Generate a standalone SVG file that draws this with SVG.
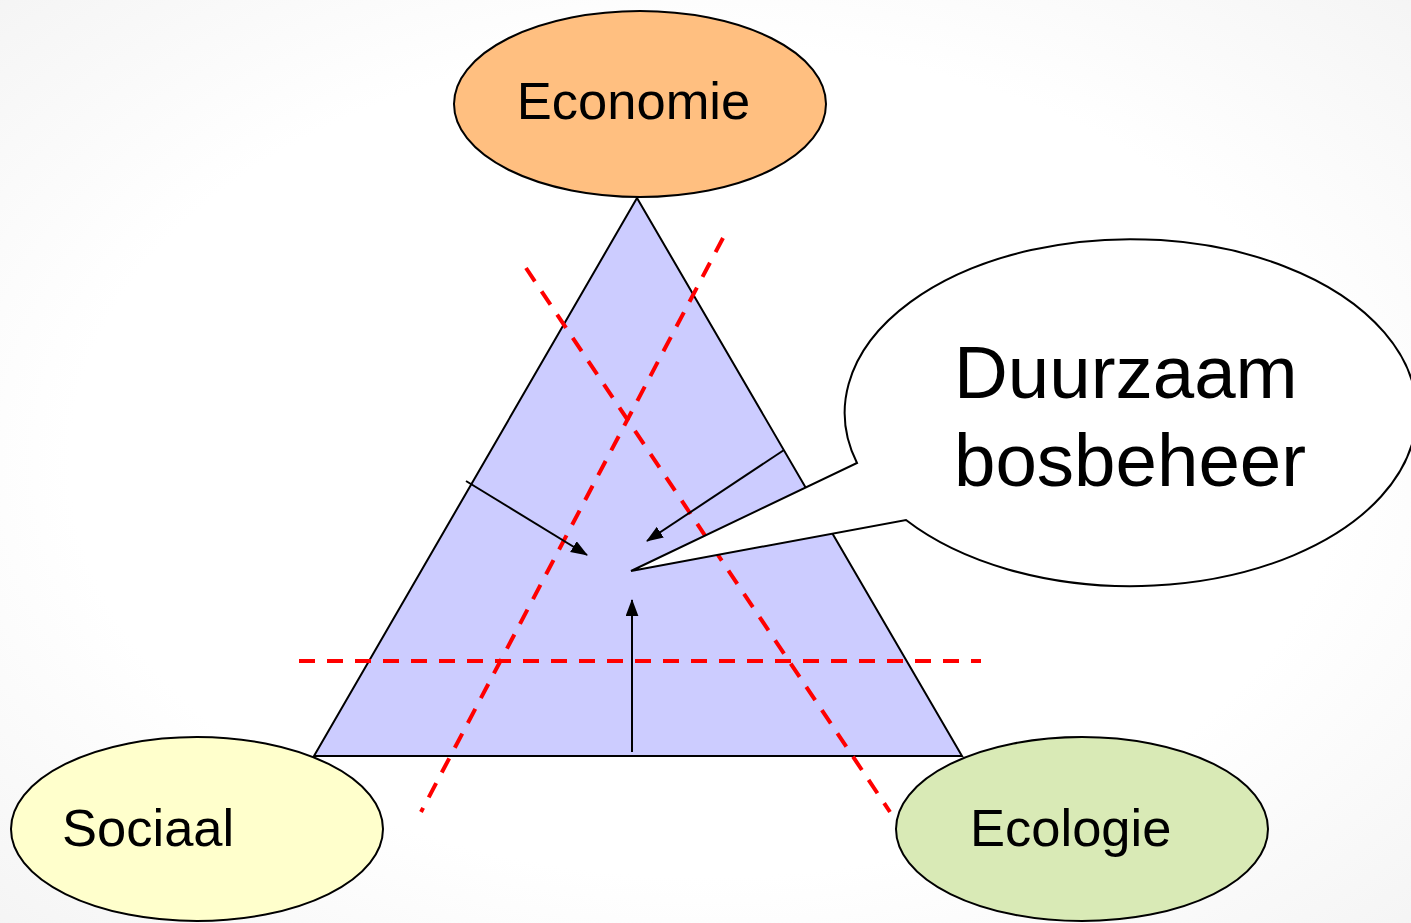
<svg xmlns="http://www.w3.org/2000/svg" width="1411" height="923" viewBox="0 0 1411 923">
<defs>
<radialGradient id="bg" cx="50%" cy="50%" r="75%">
<stop offset="0" stop-color="#ffffff"/>
<stop offset="0.6" stop-color="#ffffff"/>
<stop offset="1" stop-color="#f3f3f3"/>
</radialGradient>
<marker id="ah" viewBox="0 0 16 12" refX="15" refY="6" markerWidth="17" markerHeight="13" markerUnits="userSpaceOnUse" orient="auto">
<path d="M0,0 L16,6 L0,12 Z" fill="#000"/>
</marker>
<style>
.lbl{font-family:"Liberation Sans",Arial,sans-serif;fill:#000}
.node{stroke:#000;stroke-width:2}
.dash{stroke:#ff0000;stroke-width:4;stroke-dasharray:16 12;fill:none}
.arr{stroke:#000;stroke-width:2;fill:none;marker-end:url(#ah)}
</style>
</defs>
<rect width="1411" height="923" fill="url(#bg)"/>
<g id="triangle">
<polygon points="637,198 314,756 962,756" fill="#ccccff" stroke="#000" stroke-width="2"/>
</g>
<g id="economie">
<ellipse class="node" cx="640" cy="104" rx="186" ry="93" fill="#ffbf80"/>
<text class="lbl" x="633.5" y="119" font-size="52.5" text-anchor="middle">Economie</text>
</g>
<g id="sociaal">
<ellipse class="node" cx="197" cy="829" rx="186" ry="92" fill="#ffffcc"/>
<text class="lbl" x="62" y="846" font-size="52.5">Sociaal</text>
</g>
<g id="ecologie">
<ellipse class="node" cx="1082" cy="829" rx="186" ry="92" fill="#d9eab6"/>
<text class="lbl" x="970" y="846" font-size="52.5">Ecologie</text>
</g>
<g id="connectors">
<line class="dash" x1="723" y1="238" x2="421" y2="812"/>
<line class="dash" x1="526" y1="268" x2="890" y2="812"/>
<line class="dash" x1="299" y1="661" x2="981" y2="661"/>
<line class="arr" x1="466" y1="481" x2="587" y2="555"/>
<line class="arr" x1="784" y1="450" x2="647" y2="541"/>
<line class="arr" x1="632" y1="752" x2="632" y2="600"/>
</g>
<g id="callout">
<path d="M857,463 A286,173.5 0 1 1 906,520 L631,571 Z" fill="#ffffff" stroke="#000" stroke-width="2" stroke-linejoin="miter"/>
<text class="lbl" x="954" y="398" font-size="74.5">Duurzaam</text>
<text class="lbl" x="954" y="486" font-size="74.5">bosbeheer</text>
</g>
</svg>
